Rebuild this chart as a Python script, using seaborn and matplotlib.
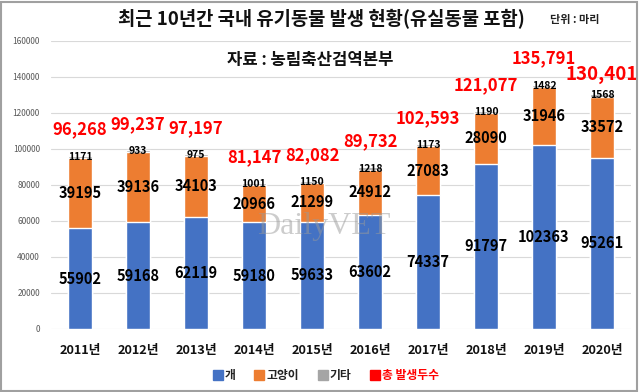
import matplotlib
matplotlib.use("Agg")
import matplotlib.pyplot as plt
import seaborn as sns
import pandas as pd
from matplotlib.lines import Line2D
from matplotlib.patches import Rectangle

years = ["2011년", "2012년", "2013년", "2014년", "2015년", "2016년", "2017년", "2018년", "2019년", "2020년"]
dogs = [55902, 59168, 62119, 59180, 59633, 63602, 74337, 91797, 102363, 95261]
cats = [39195, 39136, 34103, 20966, 21299, 24912, 27083, 28090, 31946, 33572]
others = [1171, 933, 975, 1001, 1150, 1218, 1173, 1190, 1482, 1568]
totals = [96268, 99237, 97197, 81147, 82082, 89732, 102593, 121077, 135791, 130401]
yticks = [0, 20000, 40000, 60000, 80000, 100000, 120000, 140000, 160000]

sns.set_theme(style="white")
FONT = ["Noto Sans CJK KR", "DejaVu Sans"]
plt.rcParams["font.family"] = FONT

BLUE = "#4472C4"
ORANGE = "#ED7D31"
GRAY = "#A5A5A5"
RED = "#FF0000"

df = pd.DataFrame({
    "year": years,
    "dog": dogs,
    "dogcat": [d + c for d, c in zip(dogs, cats)],
    "all": [d + c + o for d, c, o in zip(dogs, cats, others)],
    "total": totals,
})

fig = plt.figure(figsize=(6.4, 3.92), dpi=100)
ax = fig.add_axes([51 / 640, 1 - 329 / 392, 580 / 640, (329 - 41) / 392])

sns.barplot(data=df, x="year", y="all", color=GRAY, width=0.4, ax=ax, saturation=1, zorder=2)
sns.barplot(data=df, x="year", y="dogcat", color=ORANGE, width=0.4, ax=ax, saturation=1, zorder=2)
sns.barplot(data=df, x="year", y="dog", color=BLUE, width=0.4, ax=ax, saturation=1, zorder=2)

ax.set_ylim(0, 160000)
ax.set_yticks(yticks)
ax.set_yticklabels([str(v) for v in yticks], fontsize=6, color="#595959")
ax.set_xlabel("")
ax.set_ylabel("")
for s in ax.spines.values():
    s.set_visible(False)
ax.grid(axis="y", color="#D9D9D9", linewidth=0.8, zorder=0)
ax.set_axisbelow(True)
ax.tick_params(axis="both", length=0)
ax.tick_params(axis="y", pad=8)
ax.tick_params(axis="x", pad=11)
for lab in ax.get_xticklabels():
    lab.set_fontsize(9.2)
    lab.set_fontweight("bold")
    lab.set_color("#111111")

n = len(years)
for i in range(n):
    ax.text(i, dogs[i] / 2, str(dogs[i]), ha="center", va="center",
            fontsize=10.5, fontweight="bold", color="black", zorder=5)
    ax.text(i, dogs[i] + cats[i] / 2, str(cats[i]), ha="center", va="center",
            fontsize=10.5, fontweight="bold", color="black", zorder=5)
    ax.text(i, dogs[i] + cats[i] + others[i] - 600, str(others[i]), ha="center", va="center",
            fontsize=7.5, fontweight="bold", color="black", zorder=5)
    fs = 13.5 if i == n - 1 else 12
    off = 11000 if i == n - 1 else 14500
    ax.text(i, totals[i] + off, f"{totals[i]:,}", ha="center", va="center",
            fontsize=fs, fontweight="bold", color=RED, zorder=5)

# watermark
ax.text(4.2, 57000, "DailyVET", ha="center", va="center", fontsize=23,
        family=["Liberation Serif", "DejaVu Serif"], color="#9A9A9A", alpha=0.5, zorder=6)

# titles
fig.text(321 / 640, 1 - 19 / 392, "최근 10년간 국내 유기동물 발생 현황(유실동물 포함)",
         ha="center", va="center", fontsize=13.5, fontweight="bold", color="#111111")
fig.text(575 / 640, 1 - 20 / 392, "단위 : 마리", ha="center", va="center",
         fontsize=8, fontweight="bold", color="#222222")
fig.text(310 / 640, 1 - 60 / 392, "자료 : 농림축산검역본부", ha="center", va="center",
         fontsize=12, fontweight="bold", color="#111111")

handles = [
    Line2D([], [], marker="s", linestyle="", color=BLUE, markersize=7.5),
    Line2D([], [], marker="s", linestyle="", color=ORANGE, markersize=7.5),
    Line2D([], [], marker="s", linestyle="", color=GRAY, markersize=7.5),
    Line2D([], [], marker="s", linestyle="", color=RED, markersize=7.5),
]
leg = fig.legend(handles, ["개", "고양이", "기타", "총 발생두수"], loc="center",
                 bbox_to_anchor=(326 / 640, 1 - 376 / 392), ncol=4, frameon=False,
                 fontsize=8.5, handlelength=0.8, handletextpad=0.2, columnspacing=1.6,
                 borderpad=0)
for t in leg.get_texts():
    t.set_fontweight("bold")
    t.set_color("#222222")
leg.get_texts()[3].set_color(RED)

fig.patches.append(Rectangle((0.002, 0.003), 0.994, 0.993, transform=fig.transFigure,
                             fill=False, edgecolor="#A0A0A0", linewidth=1.5))

fig.savefig("out.png", dpi=100)
